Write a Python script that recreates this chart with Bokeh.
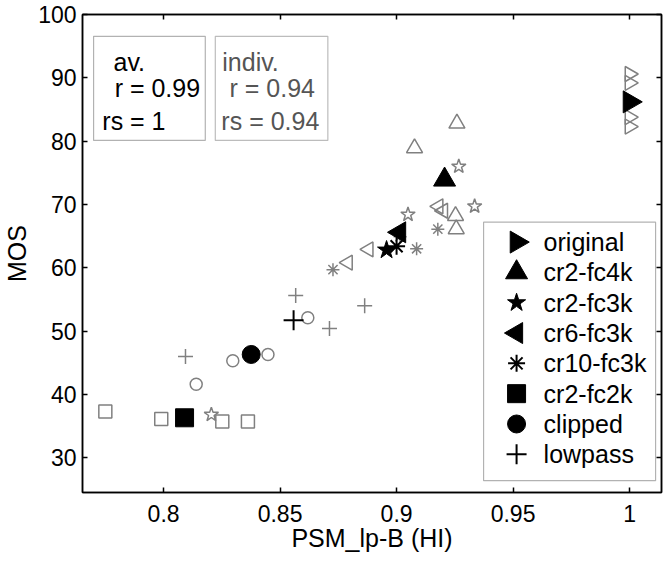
import math
from bokeh.plotting import figure
from bokeh.models import (LinearAxis, FixedTicker, Range1d, BoxAnnotation, Label,
                          CustomJSTickFormatter)
from bokeh.embed import file_html
from bokeh.resources import INLINE

# ---------------- data ----------------
conditions = ["original", "cr2-fc4k", "cr2-fc3k", "cr6-fc3k",
              "cr10-fc3k", "cr2-fc2k", "clipped", "lowpass"]

# individual (grey) points per condition
original_x = [1.0, 1.0, 1.0, 1.0]
original_y = [90.6, 89.2, 83.8, 82.3]
cr2fc4k_x = [0.9259, 0.9077, 0.9253, 0.9256]
cr2fc4k_y = [82.8, 78.9, 68.2, 66.1]
cr2fc3k_x = [0.9267, 0.9335, 0.9049, 0.8205]
cr2fc3k_y = [76.0, 69.7, 68.4, 36.8]
cr6fc3k_x = [0.9180, 0.9200, 0.8791, 0.8880]
cr6fc3k_y = [69.7, 69.0, 60.8, 62.9]
cr10fc3k_x = [0.9177, 0.9086, 0.8727, 0.9015]
cr10fc3k_y = [66.1, 63.0, 59.7, 64.9]
cr2fc2k_x = [0.7750, 0.7990, 0.8252, 0.8362]
cr2fc2k_y = [37.3, 36.1, 35.7, 35.7]
clipped_x = [0.8448, 0.8297, 0.8140, 0.8619]
clipped_y = [46.3, 45.3, 41.6, 52.1]
lowpass_x = [0.8094, 0.8567, 0.8712, 0.8863]
lowpass_y = [46.0, 55.6, 50.4, 54.0]

# averages (black) per condition
avg_x = [1.0, 0.9206, 0.8957, 0.9013, 0.9000, 0.8090, 0.8376, 0.8558]
avg_y = [86.2, 73.9, 62.8, 65.6, 63.4, 36.3, 46.3, 51.7]

x_ticks = [0.8, 0.85, 0.9, 0.95, 1.0]
x_tick_labels = ["0.8", "0.85", "0.9", "0.95", "1"]
y_ticks = [30, 40, 50, 60, 70, 80, 90, 100]

av_lines = ["av.", "r = 0.99", "rs = 1"]
indiv_lines = ["indiv.", "r = 0.94", "rs = 0.94"]

ind_x = [original_x, cr2fc4k_x, cr2fc3k_x, cr6fc3k_x, cr10fc3k_x, cr2fc2k_x, clipped_x, lowpass_x]
ind_y = [original_y, cr2fc4k_y, cr2fc3k_y, cr6fc3k_y, cr10fc3k_y, cr2fc2k_y, clipped_y, lowpass_y]

# ---------------- styles ----------------
FONT = "Liberation Sans"
GREY = "#808080"
markers = ["triangle", "triangle", "star", "triangle", "asterisk", "square", "circle", "cross"]
angles = [-math.pi / 2, 0, 0, math.pi / 2, 0, 0, 0, 0]
grey_sizes = [15, 16, 15, 15, 13, 13, 12, 15]
black_sizes = [22, 22, 19, 21, 17, 18, 18, 20]

p = figure(frame_width=579, frame_height=478,
           x_range=Range1d(0.7652, 1.0137), y_range=Range1d(24.5, 100.0),
           output_backend="svg", toolbar_location=None,
           min_border_left=78, min_border_top=14, min_border_right=2, min_border_bottom=10,
           x_axis_label="PSM_lp-B (HI)", y_axis_label="MOS")
p.grid.visible = False
p.outline_line_color = "black"
p.outline_line_width = 1.5
p.background_fill_color = "white"
p.border_fill_color = "white"

p.xaxis.ticker = FixedTicker(ticks=x_ticks)
p.xaxis.major_label_overrides = dict(zip(x_ticks, x_tick_labels))
p.yaxis.ticker = FixedTicker(ticks=y_ticks)

for ax in [p.xaxis[0], p.yaxis[0]]:
    ax.major_tick_in = 5
    ax.major_tick_out = 0
    ax.minor_tick_in = 0
    ax.minor_tick_out = 0
    ax.axis_line_width = 1.5
    ax.major_tick_line_width = 1.5
    ax.major_label_text_font = FONT
    ax.major_label_text_font_size = "23px"
    ax.major_label_text_color = "black"
    ax.axis_label_text_font = FONT
    ax.axis_label_text_font_size = "25px"
    ax.axis_label_text_font_style = "normal"
    ax.axis_label_text_color = "black"
p.xaxis.major_label_standoff = 12
p.xaxis.axis_label_standoff = -1
p.yaxis.major_label_standoff = 6
p.yaxis.axis_label_standoff = 4

blank = CustomJSTickFormatter(code="return ''")
for loc, tk in [("above", x_ticks), ("right", y_ticks)]:
    ax = LinearAxis(ticker=FixedTicker(ticks=tk), formatter=blank,
                    major_label_text_font_size="1px",
                    major_label_standoff=0, major_tick_in=5, major_tick_out=0,
                    minor_tick_in=0, minor_tick_out=0, axis_line_width=1.5,
                    major_tick_line_width=1.5)
    p.add_layout(ax, loc)

# grey individual points
for i in range(len(conditions)):
    p.scatter(ind_x[i], ind_y[i], marker=markers[i], size=grey_sizes[i],
              angle=angles[i], fill_color=None, line_color=GREY, line_width=1.5)

# black averages
for i in range(len(conditions)):
    p.scatter([avg_x[i]], [avg_y[i]], marker=markers[i], size=black_sizes[i],
              angle=angles[i], fill_color="black", line_color="black",
              line_width=2 if markers[i] in ("asterisk", "cross") else 1)

# correlation boxes
p.add_layout(BoxAnnotation(left=0.76996, right=0.8179, top=96.55, bottom=80.11,
                           fill_color="white", fill_alpha=1, line_color="black",
                           line_width=1.2, level="annotation"))
p.add_layout(BoxAnnotation(left=0.8222, right=0.8705, top=96.55, bottom=80.11,
                           fill_color="white", fill_alpha=1, line_color="#222222",
                           line_width=1.2, level="annotation"))
for txt, x, y in zip(av_lines, [0.7785, 0.7790, 0.7737], [92.5, 88.38, 83.1]):
    p.add_layout(Label(x=x, y=y, text=txt, text_font=FONT, text_font_size="25px",
                       text_color="black", text_baseline="alphabetic"))
for txt, x, y in zip(indiv_lines, [0.8252, 0.8283, 0.8248], [92.5, 88.38, 83.1]):
    p.add_layout(Label(x=x, y=y, text=txt, text_font=FONT, text_font_size="25px",
                       text_color="#555555", text_baseline="alphabetic"))

# legend (drawn by hand so the rotated triangles show correctly)
leg_left, leg_right, leg_top, leg_bottom = 0.93734, 1.01116, 67.19, 26.37
leg_mx, leg_tx, leg_y0, leg_dy = 0.9515, 0.9631, 64.05, 4.788
p.add_layout(BoxAnnotation(left=leg_left, right=leg_right, top=leg_top, bottom=leg_bottom,
                           fill_color="white", fill_alpha=1, line_color="black",
                           line_width=1.2, level="annotation"))
for i, c in enumerate(conditions):
    yy = leg_y0 - i * leg_dy
    r = p.scatter([leg_mx], [yy], marker=markers[i], size=black_sizes[i],
                  angle=angles[i], fill_color="black", line_color="black",
                  line_width=2 if markers[i] in ("asterisk", "cross") else 1)
    r.level = "overlay"
    lab = Label(x=leg_tx, y=yy, text=c, text_font=FONT, text_font_size="25px",
                text_color="black", text_baseline="middle")
    lab.level = "overlay"
    p.add_layout(lab)

open("out.html", "w").write(file_html(p, INLINE))
